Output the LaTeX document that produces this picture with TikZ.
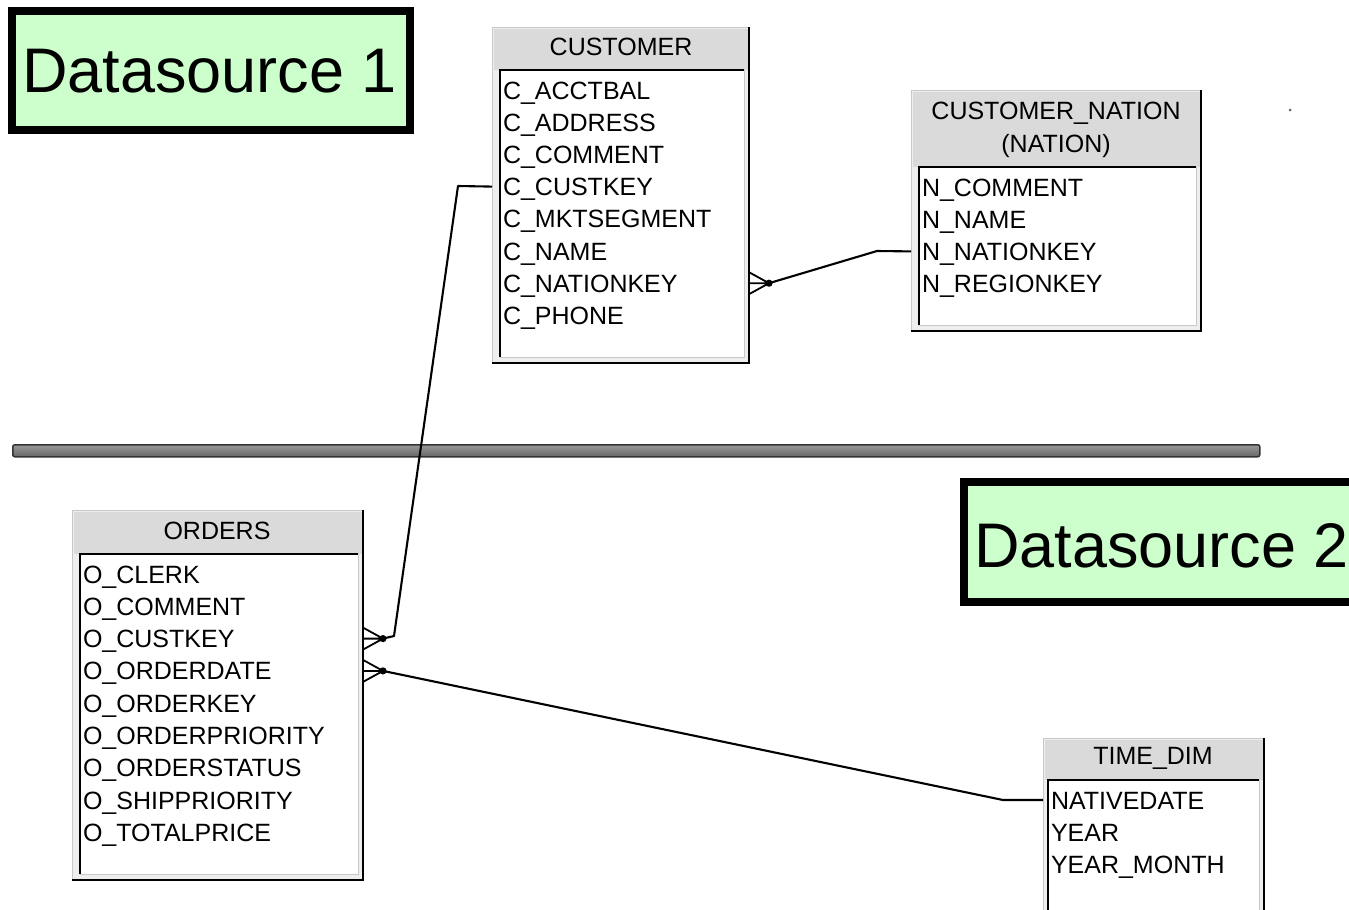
\documentclass[tikz,border=0pt]{standalone}
\usepackage{fontspec}
\setmainfont{Liberation Sans}
\usetikzlibrary{calc}

\definecolor{dsgreen}{HTML}{CCFFCC}
\definecolor{headgray}{HTML}{DADADA}
\definecolor{framegray}{HTML}{EEEEEE}
\definecolor{edgegray}{HTML}{C8C8C8}

\tikzset{
  frameouter/.style={rectangle, draw=edgegray, fill=framegray, line width=1pt,
    inner sep=0pt, outer sep=0pt, anchor=north west},
  framebody/.style={rectangle, draw=edgegray, fill=white, line width=1pt,
    inner sep=0pt, outer sep=0pt, anchor=north west},
  darkedge/.style={line width=2.5pt, black},
  rowtext/.style={inner sep=0pt, outer sep=0pt, anchor=west,
    text height=18pt, text depth=0pt, font=\fontsize{25}{30}\selectfont},
  headtext/.style={inner sep=0pt, outer sep=0pt, align=center,
    font=\fontsize{25}{33}\selectfont},
  dsbox/.style={rectangle, draw=black, fill=dsgreen, line width=7.5pt,
    inner sep=0pt, anchor=north west},
  dstext/.style={inner sep=0pt, anchor=base west, font=\fontsize{63}{70}\selectfont},
  divider/.style={rectangle, rounded corners=2pt, draw=black!80, line width=1.5pt,
    top color=black!40, bottom color=black!60, inner sep=0pt, anchor=north west},
  rel/.style={line width=2.1pt, black, line join=round},
  reldot/.style={black},
}

% table frame: name, left, top, right, bottom, top of body, left of body
\newcommand{\erdframe}[7]{%
  \node[frameouter, minimum width={#4-#2}, minimum height={#5-#3}] (#1) at (#2,#3) {};
  \fill[headgray] (#2+1.5,#3+1.5) rectangle (#4-1.5,#6);
  \node[framebody, minimum width={#4-5-#7}, minimum height={#5-6-#6}] (#1-body) at (#7,#6) {};
  \draw[darkedge] (#1-body.south west) -- (#1-body.north west) -- (#1-body.north east);
  \draw[darkedge] (#1.north east) -- (#1.south east) -- (#1.south west);
}

% crow's foot: dot coordinate, point on the frame edge
\newcommand{\crowfoot}[2]{%
  \draw[rel, line width=1.8pt] (#1) -- (#2)
    (#1) -- ([yshift=11pt]#2) (#1) -- ([yshift=-11pt]#2);
  \fill[reldot] (#1) circle (3.6);
}

\begin{document}
\begin{tikzpicture}[x=1pt, y=-1pt]
\useasboundingbox (0,0) rectangle (1349,910);
\clip (0,0) rectangle (1349,910);
\fill[white] (0,0) rectangle (1349,910);

% datasource captions
\node[dsbox, minimum width=398, minimum height=119] (ds1) at (8,7) {};
\node[dstext] (ds1-label) at (22,92) {Datasource 1};
\node[dsbox, minimum width=400, minimum height=120] (ds2) at (960,478) {};
\node[dstext] (ds2-label) at (974,567) {Datasource 2};

% separator between the two sources
\node[divider, minimum width=1247, minimum height=12] (sep) at (12,444) {};

% CUSTOMER
\erdframe{customer}{492}{27}{749}{363}{70}{500}
\node[headtext] (customer-title) at (621,47) {CUSTOMER};
\foreach \t/\n [count=\i from 0] in {C\_ACCTBAL/acctbal, C\_ADDRESS/address,
    C\_COMMENT/comment, C\_CUSTKEY/custkey, C\_MKTSEGMENT/mktsegment,
    C\_NAME/name, C\_NATIONKEY/nationkey, C\_PHONE/phone}
  \node[rowtext] (c-\n) at (503,{90+32.2*\i}) {\t};

% CUSTOMER_NATION
\erdframe{nation}{911}{90}{1201}{331}{167}{919}
\node[headtext] (nation-title) at (1056,130) {CUSTOMER\_NATION\\(NATION)};
\foreach \t/\n [count=\i from 0] in {N\_COMMENT/comment, N\_NAME/name,
    N\_NATIONKEY/nationkey, N\_REGIONKEY/regionkey}
  \node[rowtext] (n-\n) at (922,{187+32.2*\i}) {\t};

% ORDERS
\erdframe{orders}{72}{510}{363}{880}{554}{80}
\node[headtext] (orders-title) at (217,531) {ORDERS};
\foreach \t/\n [count=\i from 0] in {O\_CLERK/clerk, O\_COMMENT/comment,
    O\_CUSTKEY/custkey, O\_ORDERDATE/orderdate, O\_ORDERKEY/orderkey,
    O\_ORDERPRIORITY/orderpriority, O\_ORDERSTATUS/orderstatus,
    O\_SHIPPRIORITY/shippriority, O\_TOTALPRICE/totalprice}
  \node[rowtext] (o-\n) at (83,{574+32.3*\i}) {\t};

% TIME_DIM
\erdframe{timedim}{1043}{738}{1264}{935}{780}{1048}
\node[headtext] (timedim-title) at (1153,758) {TIME\_DIM};
\foreach \t/\n [count=\i from 0] in {NATIVEDATE/nativedate, YEAR/year,
    YEAR\_MONTH/yearmonth}
  \node[rowtext] (t-\n) at (1051,{800+32.2*\i}) {\t};

% join points next to the many-side frames
\coordinate (j-cust) at ([xshift=20pt]orders.east |- o-custkey);
\coordinate (j-date) at ([xshift=20pt]orders.east |- o-orderdate);
\coordinate (j-nation) at ([xshift=20pt]customer.east |- c-nationkey);

% relationships
\draw[rel] (customer.west |- c-custkey) -- (458,186) -- (394,636) -- (j-cust);
\crowfoot{j-cust}{orders.east |- o-custkey}

\draw[rel] (j-date) -- (1003,800) -- (timedim.west |- t-nativedate);
\crowfoot{j-date}{orders.east |- o-orderdate}

\draw[rel] (j-nation) -- (877,251) -- (nation.west |- n-nationkey);
\crowfoot{j-nation}{customer.east |- c-nationkey}

% stray mark at the top right
\fill[black!60] (1290,110) circle (1.5);
\end{tikzpicture}
\end{document}
